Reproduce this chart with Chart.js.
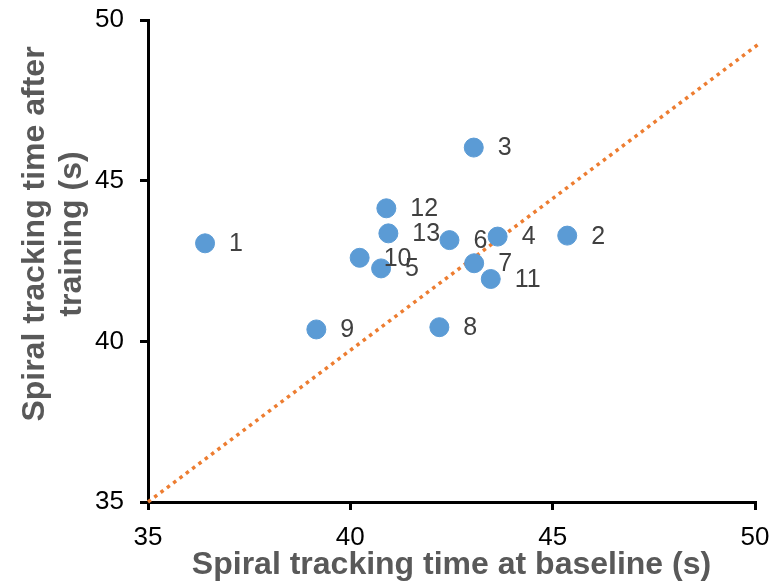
<!DOCTYPE html>
<html>
<head>
<meta charset="utf-8">
<script src="https://cdn.jsdelivr.net/npm/chart.js@4"></script>
<style>
  body { margin: 0; background: #fff; }
  canvas { display: block; }
</style>
</head>
<body>
<canvas id="spiralChart" width="772" height="586"></canvas>
<script>
// Subject numbers and tracking times (s)
const subjects = ['1', '2', '3', '4', '5', '6', '7', '8', '9', '10', '11', '12', '13'];
const baseline = [36.41, 45.36, 43.05, 43.64, 40.76, 42.45, 43.06, 42.20, 39.16, 40.23, 43.47, 40.89, 40.94];
const afterTraining = [43.05, 43.29, 46.03, 43.26, 42.27, 43.15, 42.43, 40.44, 40.37, 42.60, 41.94, 44.14, 43.36];
// dotted reference line end points
const lineX = [35, 50.12];
const lineY = [35, 49.28];
const tickValues = [35, 40, 45, 50];

const fontFamily = "'Liberation Sans', Arial, sans-serif";

// Number each point, just to the right of the marker
const pointLabels = {
    id: 'pointLabels',
    afterDatasetsDraw(chart) {
        const ctx = chart.ctx;
        const meta = chart.getDatasetMeta(0);
        ctx.save();
        ctx.font = '25px ' + fontFamily;
        ctx.fillStyle = '#404040';
        ctx.textAlign = 'left';
        ctx.textBaseline = 'middle';
        meta.data.forEach((pt, i) => {
            ctx.fillText(subjects[i], pt.x + 24, pt.y + 1);
        });
        ctx.restore();
    }
};

// Two-line rotated y axis title
const yTitle = {
    id: 'yTitle',
    afterDraw(chart) {
        const ctx = chart.ctx;
        const lines = ['Spiral tracking time after', 'training (s)'];
        ctx.save();
        ctx.font = 'bold 32px ' + fontFamily;
        ctx.fillStyle = '#595959';
        ctx.textAlign = 'center';
        ctx.textBaseline = 'middle';
        lines.forEach((txt, i) => {
            ctx.save();
            ctx.translate(35 + i * 37, 234);
            ctx.rotate(-Math.PI / 2);
            ctx.fillText(txt, 0, 0);
            ctx.restore();
        });
        ctx.restore();
    }
};

const axisStyle = {
    border: { color: '#000', width: 3 },
    grid: { drawOnChartArea: false, drawTicks: true, tickLength: 8, color: '#000', lineWidth: 3 },
    ticks: { color: '#000', font: { size: 26, family: fontFamily } }
};

new Chart(document.getElementById('spiralChart'), {
    type: 'scatter',
    data: {
        datasets: [{
            label: 'Subjects',
            data: baseline.map((b, i) => ({ x: b, y: afterTraining[i] })),
            backgroundColor: '#5B9BD5',
            borderColor: '#5B9BD5',
            pointRadius: 9.5,
            pointHoverRadius: 9.5,
            order: 1
        }, {
            label: 'Line',
            type: 'line',
            data: lineX.map((x, i) => ({ x: x, y: lineY[i] })),
            borderColor: '#ED7D31',
            borderWidth: 3.5,
            borderDash: [3.5, 4.4],
            pointRadius: 0,
            fill: false,
            clip: false,
            order: 2
        }]
    },
    options: {
        responsive: false,
        animation: false,
        layout: { padding: { top: 20, right: 17, left: 0, bottom: 0 } },
        plugins: {
            legend: { display: false },
            tooltip: { enabled: false }
        },
        scales: {
            x: {
                type: 'linear',
                min: 35,
                max: 50,
                border: axisStyle.border,
                grid: axisStyle.grid,
                afterBuildTicks: (scale) => { scale.ticks = tickValues.map(v => ({ value: v })); },
                ticks: Object.assign({}, axisStyle.ticks, { padding: 12, maxRotation: 0 }),
                title: {
                    display: true,
                    text: 'Spiral tracking time at baseline (s)',
                    color: '#595959',
                    font: { size: 32, weight: 'bold', family: fontFamily },
                    padding: { top: 0, bottom: 2 }
                },
                afterFit: (scale) => {
                    scale.height = 84;
                    scale.paddingLeft = 0;
                    scale.paddingRight = 0;
                }
            },
            y: {
                type: 'linear',
                min: 35,
                max: 50,
                border: axisStyle.border,
                grid: axisStyle.grid,
                afterBuildTicks: (scale) => { scale.ticks = tickValues.map(v => ({ value: v })); },
                ticks: Object.assign({}, axisStyle.ticks, { padding: 16 }),
                afterFit: (scale) => {
                    scale.width = 148;
                    scale.paddingTop = 0;
                    scale.paddingBottom = 0;
                }
            }
        }
    },
    plugins: [pointLabels, yTitle]
});
</script>
</body>
</html>
